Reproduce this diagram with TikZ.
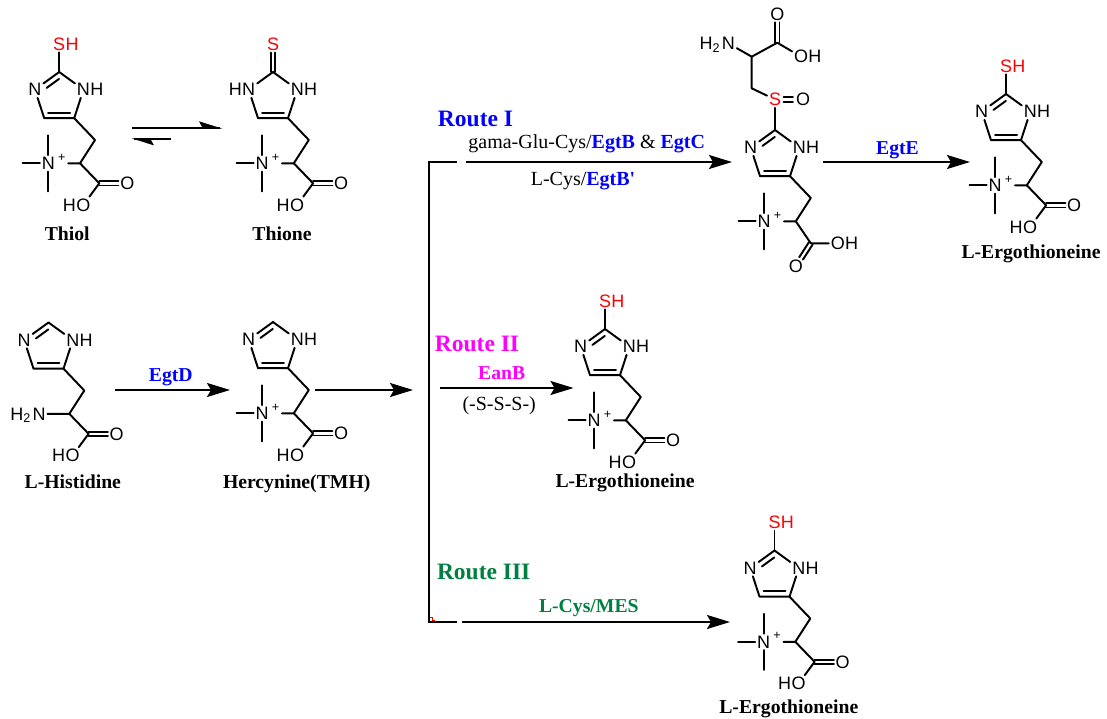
\documentclass[tikz,border=0pt]{standalone}
\usepackage{fontspec}
\setmainfont{Liberation Serif}
\newfontfamily\atomfont{Liberation Sans}
\usetikzlibrary{arrows.meta,calc}
\definecolor{egblue}{RGB}{0,0,255}
\definecolor{egmag}{RGB}{255,0,255}
\definecolor{eggreen}{RGB}{0,128,64}
\definecolor{egred}{RGB}{255,0,0}
\tikzset{
 bond/.style={line width=1.95pt, line cap=round, line join=round},
 atom/.style={font=\atomfont\fontsize{18}{18}\selectfont, inner sep=1.8pt},
 hpart/.style={font=\atomfont\fontsize{18}{18}\selectfont, inner sep=0pt},
 plus/.style={font=\atomfont\fontsize{12.5}{12.5}\selectfont, inner sep=0pt},
 lab/.style={font=\bfseries\fontsize{19.7}{20}\selectfont, anchor=base, inner sep=0pt},
 route/.style={font=\bfseries\fontsize{23.5}{24}\selectfont, anchor=base, inner sep=0pt},
 cond/.style={font=\fontsize{20}{20}\selectfont, anchor=base, inner sep=0pt},
 boldc/.style={font=\bfseries\fontsize{19.7}{20}\selectfont, anchor=base, inner sep=0pt},
 rxn/.style={line width=2pt, -{Stealth[length=23pt,width=14pt,inset=4pt]}},
 plain/.style={line width=2pt, line join=miter},
}
% imidazole with N= on the left, NH on the right (C2 at origin)
\newcommand\RingA[1]{%
 \coordinate (#1c2) at (0,0);
 \node[atom] (#1n3) at (-24.27,17.63) {N};
 \coordinate (#1c4) at (-15,46.17);
 \coordinate (#1c5) at (15,46.17);
 \node[atom] (#1n1) at (24.27,17.63) {N};
 \node[hpart,anchor=west] (#1h1) at ([xshift=-1.8pt]#1n1.east) {H};
 \draw[bond] (#1c2) -- (#1n3);
 \draw[bond] (#1n3) -- (#1c4) -- (#1c5) -- (#1n1);
 \draw[bond] (#1n1) -- (#1c2);
 \draw[bond] (-11,40.67) -- (11,40.67);
 \draw[bond] (-12.55,15.91) -- (-0.17,6.92);
}
% imidazole-2-thione ring: HN on both sides
\newcommand\RingB[1]{%
 \coordinate (#1c2) at (0,0);
 \node[atom] (#1n3) at (-24.27,17.63) {N};
 \node[hpart,anchor=east] (#1h3) at ([xshift=1.8pt]#1n3.west) {H};
 \coordinate (#1c4) at (-15,46.17);
 \coordinate (#1c5) at (15,46.17);
 \node[atom] (#1n1) at (24.27,17.63) {N};
 \node[hpart,anchor=west] (#1h1) at ([xshift=-1.8pt]#1n1.east) {H};
 \draw[bond] (#1c2) -- (#1n3);
 \draw[bond] (#1n3) -- (#1c4) -- (#1c5) -- (#1n1);
 \draw[bond] (#1n1) -- (#1c2);
 \draw[bond] (-11,40.67) -- (11,40.67);
}
\newcommand\SubSH[1]{%
 \node[atom,text=egred] (#1s) at (0,-28) {S};
 \node[hpart,text=egred,anchor=west] (#1sh) at ([xshift=-1.8pt]#1s.east) {H};
 \draw[bond] (#1c2) -- (#1s);
}
\newcommand\SubThione[1]{%
 \node[atom,text=egred] (#1s) at (0,-28) {S};
 \draw[bond] (-2.4,0) -- (-2.4,-19.5);
 \draw[bond] (2.4,0) -- (2.4,-19.5);
}
\newcommand\ChainTMA[1]{%
 \coordinate (#1ch2) at (35.8,68);
 \coordinate (#1ca) at (20.8,91.3);
 \node[atom] (#1np) at (-10.9,91.3) {N};
 \node[plus] (#1pl) at (2.6,85.5) {+};
 \coordinate (#1m1) at (-10.9,63.3);
 \coordinate (#1m2) at (-10.9,119.3);
 \coordinate (#1m3) at (-36.5,91.3);
 \coordinate (#1nb) at (9,91.3);
 \draw[bond] (#1c5) -- (#1ch2) -- (#1ca) -- (#1nb);
 \draw[bond] (#1np) -- (#1m1);
 \draw[bond] (#1np) -- (#1m2);
 \draw[bond] (#1np) -- (#1m3);
}
\newcommand\ChainNH[1]{%
 \coordinate (#1ch2) at (35.8,68);
 \coordinate (#1ca) at (20.8,91.3);
 \node[atom] (#1na) at (-9.5,91.3) {N};
 \node[hpart,anchor=base east] (#1h2) at ([xshift=0.5pt]#1na.base west) {H\textsubscript{2}};
 \draw[bond] (#1c5) -- (#1ch2) -- (#1ca) -- (#1na);
}
\newcommand\COOHstd[1]{%
 \coordinate (#1cc) at (40.1,111.3);
 \node[atom] (#1od) at (68.1,111.3) {O};
 \node[atom] (#1oh) at (24.1,133) {O};
 \node[hpart,anchor=east] (#1ho) at ([xshift=1.8pt]#1oh.west) {H};
 \draw[bond] (#1ca) -- (#1cc) -- (#1oh);
 \draw[bond] (40.1,109.1) -- (59.3,109.1);
 \draw[bond] (40.1,113.5) -- (59.3,113.5);
}
\newcommand\COOHalt[1]{%
 \coordinate (#1cc) at (35.8,113.3);
 \node[atom] (#1oh) at (62.8,113.3) {O};
 \node[hpart,anchor=west] (#1ho) at ([xshift=-1.8pt]#1oh.east) {H};
 \node[atom] (#1od) at (20.8,136.6) {O};
 \draw[bond] (#1ca) -- (#1cc) -- (#1oh);
 \draw[bond] (37.65,114.49) -- (27.93,129.59);
 \draw[bond] (33.95,112.11) -- (24.23,127.21);
}
\begin{document}
\begin{tikzpicture}[x=1pt,y=-1pt]
\useasboundingbox (0,0) rectangle (1107,718);
\fill[white] (0,0) rectangle (1107,718);

% ---- molecules ----
\begin{scope}[shift={(59.2,72)}]   \RingA{a} \SubSH{a} \ChainTMA{a} \COOHstd{a} \end{scope}
\begin{scope}[shift={(273,72)}]    \RingB{b} \SubThione{b} \ChainTMA{b} \COOHstd{b} \end{scope}
\begin{scope}[shift={(48.5,322.5)}] \RingA{c} \ChainNH{c} \COOHstd{c} \end{scope}
\begin{scope}[shift={(273,322)}]   \RingA{d} \ChainTMA{d} \COOHstd{d} \end{scope}
\begin{scope}[shift={(1006,94)}]   \RingA{e} \SubSH{e} \ChainTMA{e} \COOHstd{e} \end{scope}
\begin{scope}[shift={(605,329)}]   \RingA{f} \SubSH{f} \ChainTMA{f} \COOHstd{f} \end{scope}
\begin{scope}[shift={(774.5,550.5)}] \RingA{g} \SubSH{g} \ChainTMA{g} \COOHstd{g} \end{scope}
\begin{scope}[shift={(775,130)}]
 \RingA{r} \ChainTMA{r} \COOHalt{r}
 \node[atom,text=egred] (rs) at (0,-30.5) {S};
 \draw[bond] (rc2) -- (rs);
 \node[atom] (rso) at (28,-30.5) {O};
 \draw[bond] (8.5,-32.7) -- (17.8,-32.7);
 \draw[bond] (8.5,-28.3) -- (17.8,-28.3);
 \coordinate (rch2b) at (-23.3,-41.7);
 \coordinate (rcab) at (-23.3,-73.3);
 \node[atom] (rnc) at (-46.7,-86.7) {N};
 \node[hpart,anchor=base east] (rh2c) at ([xshift=0.5pt]rnc.base west) {H\textsubscript{2}};
 \coordinate (rcc2) at (2.3,-87.3);
 \node[atom] (rod2) at (2.3,-116) {O};
 \node[atom] (roh2) at (26,-73.3) {O};
 \node[hpart,anchor=west] (rho2) at ([xshift=-1.8pt]roh2.east) {H};
 \draw[bond] (rs) -- (rch2b) -- (rcab) -- (rnc);
 \draw[bond] (rcab) -- (rcc2) -- (roh2);
 \draw[bond] (0.1,-87.3) -- (0.1,-107.6);
 \draw[bond] (4.5,-87.3) -- (4.5,-107.6);
\end{scope}

% ---- compound names ----
\node[lab] (thiol) at (67.2,240) {Thiol};
\node[lab] (thione) at (282,240) {Thione};
\node[lab] (his) at (72.8,488.3) {L-Histidine};
\node[lab] (herc) at (296.7,488.3) {Hercynine(TMH)};
\node[lab] (ergoA) at (1031,258) {L-Ergothioneine};
\node[lab] (ergoB) at (625,487.5) {L-Ergothioneine};
\node[lab] (ergoC) at (788.8,713) {L-Ergothioneine};

% ---- equilibrium ----
\coordinate (eq1a) at (132,127.7); \coordinate (eq1b) at (220,127.7);
\coordinate (eq2a) at (171,139.3); \coordinate (eq2b) at (134,139.3);
\draw[plain] (eq1a) -- (eq1b);
\fill (199,121.3) -- (222.5,128.7) -- (203,128.7) -- cycle;
\draw[plain] (eq2a) -- (eq2b);
\fill (131.5,138.3) -- (154,145.4) -- (150,138.3) -- cycle;

% ---- reaction arrows ----
\coordinate (dA) at (115,390);  \coordinate (dB) at (230,390);
\coordinate (hA) at (315,390);  \coordinate (hB) at (413,390);
\coordinate (bT1) at (457,162); \coordinate (bT0) at (429,162);
\coordinate (bB0) at (429,622); \coordinate (bB1) at (457,622);
\coordinate (r1A) at (466,162); \coordinate (r1B) at (732,162);
\coordinate (r2A) at (440,388); \coordinate (r2B) at (573.5,388);
\coordinate (r3A) at (462,622); \coordinate (r3B) at (730,622);
\coordinate (eA) at (823,162);  \coordinate (eB) at (970,162);
\draw[rxn] (dA) -- (dB);
\draw[rxn] (hA) -- (hB);
\draw[plain] (bT1) -- (bT0) -- (bB0) -- (bB1);
\draw[rxn] (r1A) -- (r1B);
\draw[rxn] (r2A) -- (r2B);
\draw[rxn] (r3A) -- (r3B);
\draw[rxn] (eA) -- (eB);
\draw[egred, line width=0.6pt] (429.5,617.2) -- (432.3,617.2) -- (432.3,620.3) -- (434.8,620.3);

% ---- arrow labels ----
\node[boldc,text=egblue] (egtd) at (170.8,381.7) {EgtD};
\node[route,text=egblue] (rt1) at (475.5,126.7) {Route I};
\node[cond] (c1) at (586.7,148.5) {gama-Glu-Cys/\textcolor{egblue}{\textbf{EgtB}} \& \textcolor{egblue}{\textbf{EgtC}}};
\node[cond] (c2) at (583,185) {L-Cys/\textcolor{egblue}{\textbf{EgtB\textquotesingle}}};
\node[boldc,text=egblue] (egte) at (897.5,154) {EgtE};
\node[route,text=egmag] (rt2) at (477,351.7) {Route II};
\node[boldc,text=egmag] (eanb) at (501.7,379.3) {EanB};
\node[cond] (sss) at (499.2,410) {(-S-S-S-)};
\node[route,text=eggreen] (rt3) at (483.7,579) {Route III};
\node[boldc,text=eggreen] (mes) at (588.8,612.3) {L-Cys/MES};
\end{tikzpicture}
\end{document}
